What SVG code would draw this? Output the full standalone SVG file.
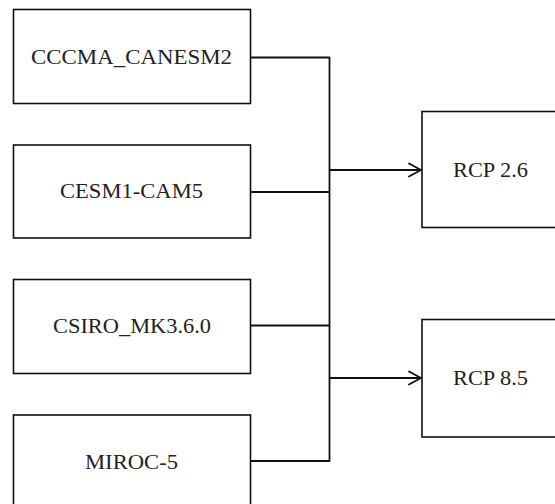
<svg xmlns="http://www.w3.org/2000/svg" width="555" height="504" viewBox="0 0 555 504">
<defs>
<style>
.box{fill:#fff;stroke:#111;stroke-width:1.6}
.lbl{font-family:"Liberation Serif","Times New Roman",serif;font-size:21px;fill:#222;text-anchor:middle}
.con{fill:none;stroke:#111;stroke-width:1.8}
.head{fill:none;stroke:#111;stroke-width:1.8;stroke-linecap:round;stroke-linejoin:round}
</style>
</defs>
<rect width="555" height="504" fill="#fff"/>
<g id="connectors">
<path class="con" d="M250.5 57.5H329.5M250.5 192H329.5M250.5 325.5H329.5M250.5 461H329.5M329.5 56.7V461.8"/>
<path class="con" d="M329.5 170H421M329.5 378H421"/>
<path class="head" d="M409 163.5L421 170L409 176.5"/>
<path class="head" d="M409 371.5L421 378L409 384.5"/>
</g>
<g id="n1"><rect class="box" x="13.5" y="9.5" width="237" height="94"/><text class="lbl" x="131.5" y="63.5" textLength="201" lengthAdjust="spacingAndGlyphs">CCCMA_CANESM2</text></g>
<g id="n2"><rect class="box" x="13.5" y="145" width="237" height="93"/><text class="lbl" x="131.5" y="197.5" textLength="143" lengthAdjust="spacingAndGlyphs">CESM1-CAM5</text></g>
<g id="n3"><rect class="box" x="13.5" y="279.5" width="237" height="94"/><text class="lbl" x="132" y="333" textLength="158" lengthAdjust="spacingAndGlyphs">CSIRO_MK3.6.0</text></g>
<g id="n4"><rect class="box" x="13.5" y="415" width="237" height="100"/><text class="lbl" x="131.5" y="468.5" textLength="93" lengthAdjust="spacingAndGlyphs">MIROC-5</text></g>
<g id="n5"><rect class="box" x="422" y="111.5" width="140" height="116"/><text class="lbl" x="490.5" y="177" textLength="75" lengthAdjust="spacingAndGlyphs">RCP 2.6</text></g>
<g id="n6"><rect class="box" x="422" y="319.5" width="140" height="117.5"/><text class="lbl" x="490.5" y="385" textLength="75" lengthAdjust="spacingAndGlyphs">RCP 8.5</text></g>
</svg>
